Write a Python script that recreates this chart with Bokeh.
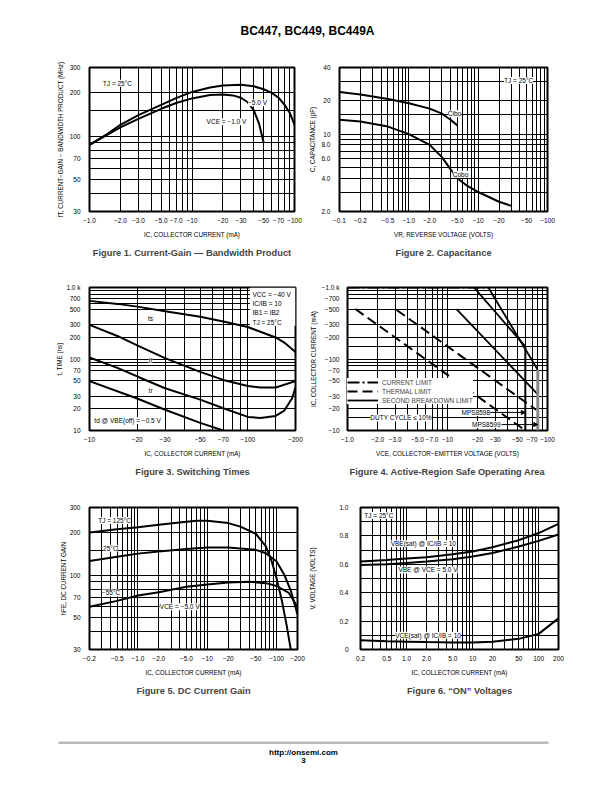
from bokeh.plotting import figure
from bokeh.models import (FixedTicker, Label, Range1d, Legend, LegendItem,
                          BoxAnnotation, Arrow, NormalHead)
from bokeh.layouts import column, row
from bokeh.embed import file_html
from bokeh.resources import INLINE
from bokeh.core.properties import value

FONT = "Liberation Sans"
BOLD = "Liberation Sans"

# ---------------- Figure 1: fT vs IC ----------------
f1_x_ticks = [1, 2, 3, 5, 7, 10, 20, 30, 50, 70, 100]
f1_x_labels = ["−1.0", "−2.0", "−3.0", "−5.0", "−7.0", "−10", "−20", "−30", "−50", "−70", "−100"]
f1_y_ticks = [30, 50, 70, 100, 200, 300]
f1_y_labels = ["30", "50", "70", "100", "200", "300"]
f1_x_grid = [1, 2, 3, 4, 5, 6, 7, 8, 9, 10, 20, 30, 40, 50, 60, 70, 80, 90, 100]
f1_y_grid = [30, 40, 50, 60, 70, 80, 90, 100, 150, 200, 300]
f1_ic_5v = [1, 1.5, 2, 3, 5, 7, 10, 15, 20, 30, 40, 50, 60, 70, 80, 90, 100]
f1_ft_5v = [87, 104, 120, 140, 165, 184, 203, 218, 225, 228, 222, 212, 200, 185, 165, 145, 120]
f1_ic_1v = [1, 2, 3, 5, 7, 10, 15, 20, 25, 30, 35, 40, 45, 50]
f1_ft_1v = [87, 115, 132, 155, 170, 183, 193, 195, 192, 185, 172, 152, 123, 90]

# ---------------- Figure 2: capacitance ----------------
f2_x_ticks = [0.1, 0.2, 0.5, 1, 2, 5, 10, 20, 50, 100]
f2_x_labels = ["−0.1", "−0.2", "−0.5", "−1.0", "−2.0", "−5.0", "−10", "−20", "−50", "−100"]
f2_y_ticks = [2, 4, 6, 8, 10, 20, 40]
f2_y_labels = ["2.0", "4.0", "6.0", "8.0", "10", "20", "40"]
f2_x_grid = [0.1, 0.2, 0.3, 0.4, 0.5, 0.6, 0.7, 0.8, 0.9, 1, 2, 3, 4, 5, 6, 7, 8, 9,
             10, 20, 30, 40, 50, 60, 70, 80, 90, 100]
f2_y_grid = [2, 3, 4, 5, 6, 7, 8, 9, 10, 15, 20, 30, 40]
f2_vr_ibo = [0.1, 0.2, 0.5, 1.0, 2.0, 3.0, 4.0, 5.0]
f2_c_ibo = [24, 22.8, 20.8, 19.0, 17.0, 15.3, 13.5, 12.0]
f2_vr_obo = [0.1, 0.2, 0.5, 1.0, 2.0, 3.0, 4.0, 5.0, 7.0, 10, 20, 30]
f2_c_obo = [13.5, 13.0, 11.7, 10.0, 8.0, 6.2, 4.8, 4.0, 3.4, 3.0, 2.45, 2.25]

# ---------------- Figure 3: switching times ----------------
f3_x_ticks = [10, 20, 30, 50, 70, 100, 200]
f3_x_labels = ["−10", "−20", "−30", "−50", "−70", "−100", "−200"]
f3_y_ticks = [10, 20, 30, 50, 70, 100, 200, 300, 500, 700, 1000]
f3_y_labels = ["10", "20", "30", "50", "70", "100", "200", "300", "500", "700", "1.0 k"]
f3_x_grid = [10, 20, 30, 40, 50, 60, 70, 80, 90, 100, 150, 200]
f3_y_grid = [10, 20, 30, 50, 70, 80, 90, 100, 200, 300, 500, 600, 700, 800, 900, 1000]
f3_ic_ts = [10, 15, 20, 30, 50, 70, 100, 150, 170, 200]
f3_ts = [650, 590, 540, 465, 390, 335, 280, 200, 170, 125]
f3_ic_tf = [10, 15, 20, 30, 40, 50, 70, 100, 120, 150, 200]
f3_tf = [300, 210, 155, 103, 80, 66, 51, 42, 40, 40, 49]
f3_ic_tr = [10, 15, 20, 30, 50, 70, 100, 120, 150, 170, 190, 200]
f3_tr = [105, 75, 57, 39, 27, 20.5, 15.5, 15, 16, 19, 28, 40]
f3_ic_td = [10, 20, 30, 50, 70]
f3_td = [49, 28, 19.5, 12.8, 10]

# ---------------- Figure 4: safe operating area ----------------
f4_x_ticks = [1, 2, 3, 5, 7, 10, 20, 30, 50, 70, 100]
f4_x_labels = ["−1.0", "−2.0", "−3.0", "−5.0", "−7.0", "−10", "−20", "−30", "−50", "−70", "−100"]
f4_y_ticks = [10, 20, 30, 50, 70, 100, 200, 300, 500, 700, 1000]
f4_y_labels = ["−10", "−20", "−30", "−50", "−70", "−100", "−200", "−300", "−500", "−700", "−1.0 k"]
f4_x_grid = [1, 2, 3, 4, 5, 6, 7, 8, 9, 10, 20, 30, 40, 50, 60, 70, 80, 90, 100]
f4_y_grid = [10, 15, 20, 30, 50, 70, 80, 90, 100, 150, 200, 300, 500, 700, 800, 900, 1000]
f4_v_cl = [1, 25.6]
f4_i_cl = [1000, 1000]
f4_v_th1 = [1.2, 60]
f4_i_th1 = [500, 10]
f4_v_th2 = [3.1, 77]
f4_i_th2 = [485, 19.5]
f4_v_sb1 = [18.4, 60]
f4_i_sb1 = [1000, 150]
f4_v_sb2 = [25.6, 80]
f4_i_sb2 = [1000, 70]
f4_v_sb3 = [12.3, 80]
f4_i_sb3 = [500, 32]
f4_v_8598 = [60, 60]
f4_i_8598 = [150, 10]
f4_v_8599 = [80, 80]
f4_i_8599 = [70, 10]

# ---------------- Figure 5: DC current gain ----------------
f5_x_ticks = [0.2, 0.5, 1, 2, 5, 10, 20, 50, 100, 200]
f5_x_labels = ["−0.2", "−0.5", "−1.0", "−2.0", "−5.0", "−10", "−20", "−50", "−100", "−200"]
f5_y_ticks = [30, 50, 70, 100, 200, 300]
f5_y_labels = ["30", "50", "70", "100", "200", "300"]
f5_x_grid = [0.2, 0.3, 0.4, 0.5, 0.6, 0.7, 0.8, 0.9, 1, 2, 3, 4, 5, 6, 7, 8, 9,
             10, 20, 30, 40, 50, 60, 70, 80, 90, 100, 200]
f5_y_grid = [30, 40, 50, 60, 70, 80, 90, 100, 150, 200, 300]
f5_ic_125 = [0.2, 0.5, 1, 2, 5, 7, 10, 20, 30, 50, 70, 85, 100, 120, 140, 160]
f5_h_125 = [200, 211, 218, 227, 238, 242, 242, 233, 220, 196, 160, 125, 95, 65, 44, 30]
f5_ic_25 = [0.2, 0.5, 1, 2, 5, 10, 20, 50, 70, 100, 130, 160, 200]
f5_h_25 = [126, 135, 142, 147, 153, 157, 157, 151, 143, 125, 100, 78, 53]
f5_ic_m55 = [0.2, 0.5, 1, 2, 5, 10, 20, 40, 70, 100, 150, 200]
f5_h_m55 = [60, 66, 72, 76, 83, 86, 89, 90, 88, 84, 75, 60]

# ---------------- Figure 6: "ON" voltages ----------------
f6_x_ticks = [0.2, 0.5, 1, 2, 5, 10, 20, 50, 100, 200]
f6_x_labels = ["0.2", "0.5", "1.0", "2.0", "5.0", "10", "20", "50", "100", "200"]
f6_y_ticks = [0, 0.2, 0.4, 0.6, 0.8, 1.0]
f6_y_labels = ["0", "0.2", "0.4", "0.6", "0.8", "1.0"]
f6_x_grid = f5_x_grid
f6_y_grid = [0, 0.1, 0.2, 0.3, 0.4, 0.5, 0.6, 0.7, 0.8, 0.9, 1.0]
f6_ic = [0.2, 0.5, 1, 2, 5, 10, 20, 50, 100, 200]
f6_vbesat = [0.62, 0.63, 0.64, 0.65, 0.67, 0.69, 0.72, 0.77, 0.82, 0.885]
f6_vbe = [0.595, 0.60, 0.61, 0.62, 0.635, 0.655, 0.68, 0.725, 0.765, 0.81]
f6_vcesat = [0.065, 0.058, 0.055, 0.052, 0.05, 0.05, 0.055, 0.075, 0.11, 0.22]

TICK = "6.5px"
AXL = "6.3px"
ANN = "6.5px"


def chart(width, height, bl, br, bt, bb, xr, yr, ytype, caption,
          xt, xl, yt, yl, xg, yg, xlabel, ylabel, ystand, ymaj=3):
    p = figure(width=width, height=height, x_axis_type="log", y_axis_type=ytype,
               x_range=Range1d(*xr), y_range=Range1d(*yr),
               output_backend="svg", toolbar_location=None,
               title=caption, title_location="below",
               min_border_left=bl, min_border_right=br,
               min_border_top=bt, min_border_bottom=bb)
    p.title.align = "center"
    p.title.text_font = BOLD
    p.title.text_font_size = "9.3px"
    p.title.text_font_style = "bold"
    p.title.standoff = 10
    p.outline_line_color = "black"
    p.outline_line_width = 2
    p.outline_line_alpha = 1
    p.border_fill_color = "white"
    p.background_fill_color = "white"

    p.xaxis.ticker = FixedTicker(ticks=xt)
    p.xaxis.major_label_overrides = {t: s for t, s in zip(xt, xl)}
    p.yaxis.ticker = FixedTicker(ticks=yt)
    p.yaxis.major_label_overrides = {t: s for t, s in zip(yt, yl)}
    for ax in (p.xaxis, p.yaxis):
        ax.axis_line_color = None
        ax.major_tick_line_color = None
        ax.minor_tick_line_color = None
        ax.major_label_text_font = FONT
        ax.major_label_text_font_size = TICK
        ax.major_label_text_color = "black"
        ax.axis_label_text_font = FONT
        ax.axis_label_text_font_size = AXL
        ax.axis_label_text_font_style = "normal"
        ax.axis_label_text_color = "black"
    p.xaxis.major_label_standoff = 0
    p.xaxis.axis_label_standoff = 5
    p.yaxis.major_label_standoff = ymaj
    p.yaxis.axis_label_standoff = ystand
    p.xaxis.axis_label = xlabel
    p.yaxis.axis_label = ylabel

    p.xgrid.ticker = FixedTicker(ticks=xg)
    p.ygrid.ticker = FixedTicker(ticks=yg)
    for g in (p.xgrid, p.ygrid):
        g.grid_line_color = "black"
        g.grid_line_width = 1
        g.grid_line_alpha = 1
    return p


def lab(p, x, y, text, align="center", size=ANN, bg=True):
    p.add_layout(Label(x=x, y=y, text=text, text_align=align, text_baseline="middle",
                       text_font=FONT, text_font_size=size, text_color="black",
                       background_fill_color="white" if bg else None,
                       background_fill_alpha=1.0))


def blank(width, height):
    p = figure(width=width, height=height, x_range=Range1d(0, width),
               y_range=Range1d(height, 0), output_backend="svg",
               toolbar_location=None, title=None, min_border=0)
    p.axis.visible = False
    p.grid.visible = False
    p.outline_line_color = None
    p.border_fill_color = "white"
    p.background_fill_color = "white"
    return p


LW = 2

# Figure 1
p1 = chart(306, 220, 89, 12, 12, 64, (1, 100), (30, 300), "log",
           "Figure 1. Current-Gain — Bandwidth Product",
           f1_x_ticks, f1_x_labels, f1_y_ticks, f1_y_labels, f1_x_grid, f1_y_grid,
           "IC, COLLECTOR CURRENT (mA)",
           "fT, CURRENT−GAIN − BANDWIDTH PRODUCT (MHz)", 3)
p1.line(f1_ic_5v, f1_ft_5v, line_color="black", line_width=LW)
p1.line(f1_ic_1v, f1_ft_1v, line_color="black", line_width=LW)
lab(p1, 1.35, 233, "TJ = 25°C", align="left")
lab(p1, 43.6, 171, "−5.0 V")
lab(p1, 21.7, 126, "VCE = −1.0 V")

# Figure 2
p2 = chart(306, 220, 33, 65, 12, 64, (0.1, 100), (2, 40), "log",
           "Figure 2. Capacitance",
           f2_x_ticks, f2_x_labels, f2_y_ticks, f2_y_labels, f2_x_grid, f2_y_grid,
           "VR, REVERSE VOLTAGE (VOLTS)", "C, CAPACITANCE (pF)", 2)
p2.line(f2_vr_ibo, f2_c_ibo, line_color="black", line_width=LW)
p2.line(f2_vr_obo, f2_c_obo, line_color="black", line_width=LW)
lab(p2, 38.3, 30.5, "TJ = 25°C")
lab(p2, 4.56, 15.3, "Cibo")
lab(p2, 5.57, 4.34, "Cobo")

# Figure 3
p3 = chart(306, 220, 89, 11, 12, 65, (10, 200), (10, 1000), "log",
           "Figure 3. Switching Times",
           f3_x_ticks, f3_x_labels, f3_y_ticks, f3_y_labels, f3_x_grid, f3_y_grid,
           "IC, COLLECTOR CURRENT (mA)", "t, TIME (ns)", 0)
p3.add_layout(BoxAnnotation(left=103, right=200, top=1000, bottom=290,
                            fill_color="white", fill_alpha=1, line_color=None))
p3.line(f3_ic_ts, f3_ts, line_color="black", line_width=LW)
p3.line(f3_ic_tf, f3_tf, line_color="black", line_width=LW)
p3.line(f3_ic_tr, f3_tr, line_color="black", line_width=LW)
p3.line(f3_ic_td, f3_td, line_color="black", line_width=LW)
lab(p3, 107, 798, "VCC = −40 V", align="left", bg=False)
lab(p3, 107, 597, "IC/IB = 10", align="left", bg=False)
lab(p3, 107, 447, "IB1 = IB2", align="left", bg=False)
lab(p3, 107, 329, "TJ = 25°C", align="left", bg=False)
lab(p3, 24.3, 372, "ts")
lab(p3, 24.3, 95, "tf")
lab(p3, 24.3, 36, "tr")
lab(p3, 17.4, 13.8, "td @ VBE(off) = −0.5 V")

# Figure 4
p4 = chart(306, 220, 32, 65, 12, 65, (1, 100), (10, 1000), "log",
           "Figure 4. Active-Region Safe Operating Area",
           f4_x_ticks, f4_x_labels, f4_y_ticks, f4_y_labels, f4_x_grid, f4_y_grid,
           "VCE, COLLECTOR−EMITTER VOLTAGE (VOLTS)", "IC, COLLECTOR CURRENT (mA)", 2,
           ymaj=2)
r_cl = p4.line(f4_v_cl, f4_i_cl, line_color="black", line_width=2, line_dash="12 3 2 3")
r_th = p4.line(f4_v_th1, f4_i_th1, line_color="black", line_width=2, line_dash="10 5")
p4.line(f4_v_th2, f4_i_th2, line_color="black", line_width=2, line_dash="10 5")
r_sb = p4.line(f4_v_sb1, f4_i_sb1, line_color="black", line_width=1.8)
p4.line(f4_v_sb2, f4_i_sb2, line_color="black", line_width=1.8)
p4.line(f4_v_sb3, f4_i_sb3, line_color="black", line_width=1.8)
p4.line(f4_v_8598, f4_i_8598, line_color="black", line_width=2)
p4.line(f4_v_8599, f4_i_8599, line_color="#888888", line_width=3)
leg = Legend(items=[LegendItem(label=value("CURRENT LIMIT"), renderers=[r_cl]),
                    LegendItem(label=value("THERMAL LIMIT"), renderers=[r_th]),
                    LegendItem(label=value("SECOND BREAKDOWN LIMIT"), renderers=[r_sb])],
             location=(0, 26), glyph_width=31, glyph_height=8, label_height=8,
             label_text_font=FONT, label_text_font_size=ANN, label_standoff=4,
             spacing=1, padding=3, margin=0, border_line_color=None,
             background_fill_color="white", background_fill_alpha=1)
p4.add_layout(leg)
lab(p4, 3.43, 15, "DUTY CYCLE ≤ 10%")
lab(p4, 19.2, 17.9, "MPS8598")
lab(p4, 24.4, 12.1, "MPS8599")
p4.add_layout(Arrow(end=NormalHead(size=4, fill_color="black", line_color="black"),
                    x_start=26.7, y_start=17.9, x_end=60, y_end=17.9, line_width=1))
p4.add_layout(Arrow(end=NormalHead(size=4, fill_color="black", line_color="black"),
                    x_start=34.7, y_start=12.1, x_end=80, y_end=12.1, line_width=1))

# Figure 5
p5 = chart(306, 220, 89, 9, 12, 66, (0.2, 200), (30, 300), "log",
           "Figure 5. DC Current Gain",
           f5_x_ticks, f5_x_labels, f5_y_ticks, f5_y_labels, f5_x_grid, f5_y_grid,
           "IC, COLLECTOR CURRENT (mA)", "hFE, DC CURRENT GAIN", 0)
p5.line(f5_ic_125, f5_h_125, line_color="black", line_width=LW)
p5.line(f5_ic_25, f5_h_25, line_color="black", line_width=LW)
p5.line(f5_ic_m55, f5_h_m55, line_color="black", line_width=LW)
lab(p5, 0.46, 243, "TJ = 125°C")
lab(p5, 0.40, 155, "25°C")
lab(p5, 0.41, 75, "−55°C")
lab(p5, 4.0, 60, "VCE = −5.0 V")

# Figure 6
p6 = chart(306, 220, 44, 54, 12, 66, (0.2, 200), (0, 1.0), "linear",
           "Figure 6. “ON” Voltages",
           f6_x_ticks, f6_x_labels, f6_y_ticks, f6_y_labels, f6_x_grid, f6_y_grid,
           "IC, COLLECTOR CURRENT (mA)", "V, VOLTAGE (VOLTS)", 20, ymaj=6)
p6.line(f6_ic, f6_vbesat, line_color="black", line_width=LW)
p6.line(f6_ic, f6_vbe, line_color="black", line_width=LW)
p6.line(f6_ic, f6_vcesat, line_color="black", line_width=LW)
lab(p6, 0.228, 0.943, "TJ = 25°C", align="left")
lab(p6, 1.79, 0.745, "VBE(sat) @ IC/IB = 10")
lab(p6, 2.11, 0.56, "VBE @ VCE = 5.0 V")
lab(p6, 2.11, 0.1, "VCE(sat) @ IC/IB = 10")

# header / footer
head = blank(612, 55)
head.add_layout(Label(x=307, y=30, text="BC447, BC449, BC449A", text_align="center",
                      text_baseline="middle", text_font=BOLD, text_font_size="12px",
                      text_font_style="bold", text_color="black"))
foot = blank(612, 72)
foot.add_layout(BoxAnnotation(left=58, right=548, top=26, bottom=28.5,
                              fill_color="#b8b8b8", fill_alpha=1, line_color=None))
foot.add_layout(Label(x=303, y=37, text="http://onsemi.com", text_align="center",
                      text_baseline="middle", text_font=BOLD, text_font_size="8px",
                      text_font_style="bold", text_color="black"))
foot.add_layout(Label(x=303, y=45, text="3", text_align="center",
                      text_baseline="middle", text_font=BOLD, text_font_size="8px",
                      text_font_style="bold", text_color="black"))

page = column(head, row(p1, p2), row(p3, p4), row(p5, p6), foot)
open("out.html", "w").write(file_html(page, INLINE))
